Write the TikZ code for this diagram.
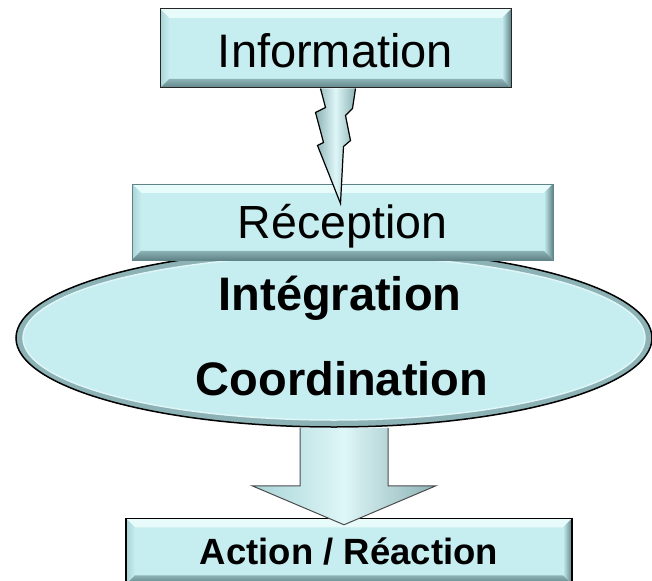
\documentclass[tikz,border=0pt]{standalone}
\usepackage{fontspec}
\setmainfont{Liberation Sans}
\usetikzlibrary{shapes.geometric,calc,positioning}
\definecolor{boxfill}{RGB}{198,237,240}
\definecolor{bevtop}{RGB}{232,251,251}
\definecolor{bevleft}{RGB}{168,212,215}
\definecolor{bevdark}{RGB}{96,132,135}
\definecolor{bevmid}{RGB}{140,178,181}
\definecolor{bevlight}{RGB}{222,246,247}
\newcommand{\bev}{9pt}

\tikzset{
  bevelbox/.style={rectangle, fill=boxfill, inner sep=0pt, text depth=0pt,
    path picture={
      \path (path picture bounding box.north west) coordinate (bnw)
            (path picture bounding box.north east) coordinate (bne)
            (path picture bounding box.south east) coordinate (bse)
            (path picture bounding box.south west) coordinate (bsw);
      \fill[bevtop] (bnw) -- (bne) -- ([shift={(-\bev,-\bev)}]bne) -- ([shift={(\bev,-\bev)}]bnw) -- cycle;
      \shade[left color=bevleft, right color=boxfill] (bsw) -- (bnw) -- ([shift={(\bev,-\bev)}]bnw) -- ([shift={(\bev,\bev)}]bsw) -- cycle;
      \shade[left color=boxfill, right color=bevdark] (bne) -- (bse) -- ([shift={(-\bev,\bev)}]bse) -- ([shift={(-\bev,-\bev)}]bne) -- cycle;
      \shade[top color=bevmid, bottom color=bevdark] (bse) -- (bsw) -- ([shift={(\bev,\bev)}]bsw) -- ([shift={(-\bev,\bev)}]bse) -- cycle;
    }},
  bigbold/.style={font=\fontsize{47}{56}\selectfont\bfseries, inner sep=0pt},
  blockshade/.style={left color=bevleft, right color=bevmid, middle color=bevlight, draw=black!70, line width=1pt},
  boltshade/.style={left color=bevmid, right color=bevmid, middle color=bevlight, draw=black, line width=1.2pt, line join=miter}
}

\begin{document}
\begin{tikzpicture}[x=1pt, y=-1pt]
    \useasboundingbox (0,0) rectangle (652,580);

    \node[ellipse, fill=bevmid, draw=black, line width=1.5pt, inner sep=0pt, minimum width=636pt, minimum height=178pt] (integ) at (334,338) {};
    \fill[boxfill, draw=bevlight, line width=1.5pt] (integ.center) ellipse [x radius=311pt, y radius=82pt];
    \node[bigbold, anchor=base] (integtxt) at ($(integ.center)+(6,-28)$) {Intégration};
    \node[bigbold, anchor=base] (coordtxt) at ($(integ.center)+(8,57)$) {Coordination};

    \node[bevelbox, draw=black, line width=1.2pt, minimum width=446pt, minimum height=66pt, text height=26pt,
          font=\fontsize{36.5}{44}\selectfont\bfseries, below=90pt of integ, xshift=15pt] (action) {Action / Réaction};

    \coordinate (arrtop) at ($(integ.south)+(10,0)$);
    \shade[blockshade] (arrtop) ++(-44,0) -- ++(0,58) -- ++(-48,0) -- ++(92,39) -- ++(92,-39) -- ++(-48,0) -- ++(0,-58);

    \node[bevelbox, draw=black!85, line width=1pt, minimum width=351pt, minimum height=79pt, text height=39pt,
          font=\fontsize{47}{56}\selectfont] (info) at (335.5,48.5) {Information};
    \node[bevelbox, draw=bevdark, line width=0.6pt, minimum width=421pt, minimum height=76pt, text height=34pt,
          font=\fontsize{46.5}{56}\selectfont, below=95pt of info, xshift=7pt] (recep) {Réception};

    \coordinate (bolttop) at (info.south);
    \shade[boltshade] (bolttop) ++(20,0) -- ++(-3,20) -- ++(-7,7) -- ++(5,25) -- ++(-7,6) -- ++(-3,57)
        -- ++(-23,-58) -- ++(6,-3) -- ++(-8,-30) -- ++(10,-5) -- ++(-5,-19);
\end{tikzpicture}
\end{document}
